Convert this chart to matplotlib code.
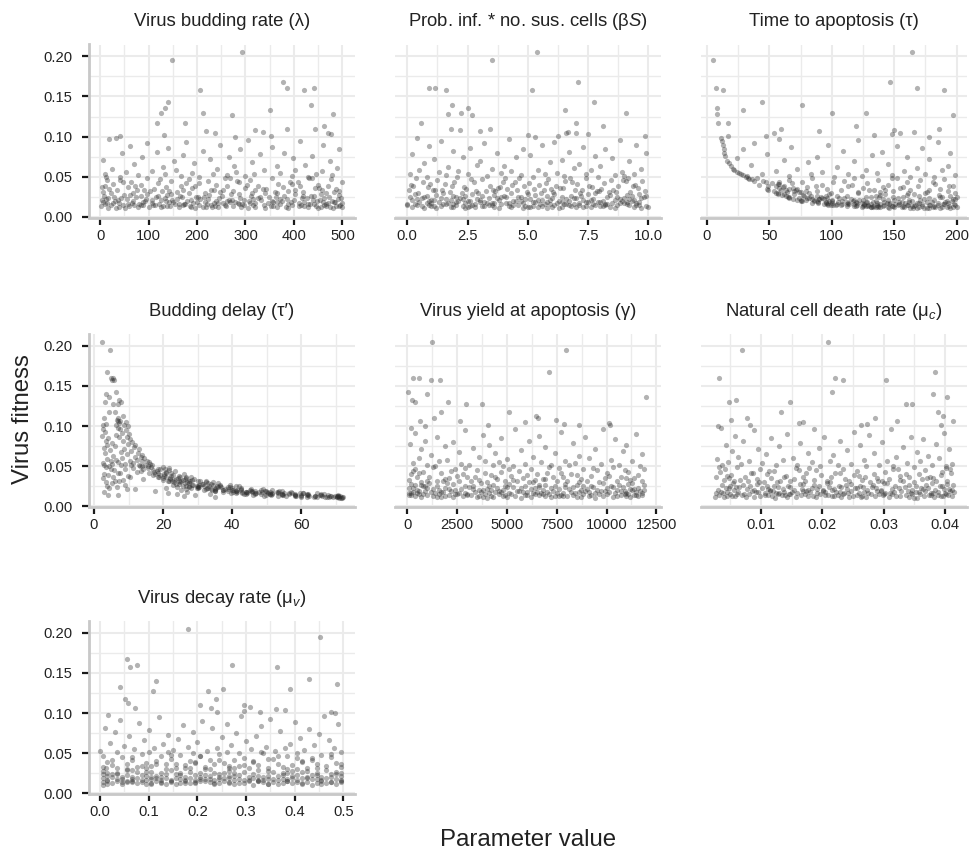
import matplotlib
matplotlib.use('Agg')
import matplotlib.pyplot as plt
import numpy as np

# ---------------- data (one row per simulated parameter set) ----------------
fitness = [
    # A: > 0.10
    0.205, 0.195, 0.168, 0.160, 0.160, 0.158, 0.158, 0.143, 0.140, 0.136,
    0.133, 0.130, 0.130, 0.128, 0.127, 0.117, 0.117, 0.113, 0.110, 0.110,
    0.108, 0.107, 0.106, 0.105, 0.104, 0.103, 0.102, 0.101, 0.101, 0.100,
    # B: 0.05 - 0.10
    0.098, 0.097, 0.096, 0.095, 0.093, 0.092, 0.090, 0.089, 0.088, 0.087, 0.086, 0.085, 0.084, 0.082, 0.081, 0.080,
    0.079, 0.078, 0.077, 0.076, 0.075, 0.074, 0.073, 0.072, 0.071, 0.070, 0.069, 0.068, 0.067, 0.066, 0.065, 0.064, 0.063, 0.062, 0.061,
    0.060, 0.060, 0.059, 0.058, 0.058, 0.057, 0.057, 0.056, 0.056, 0.055, 0.055, 0.054, 0.054, 0.053, 0.053, 0.053, 0.052, 0.052, 0.052, 0.051, 0.051, 0.051, 0.050, 0.050, 0.050,
    # C: 0.03 - 0.05
    0.050, 0.049, 0.049, 0.048, 0.048, 0.047, 0.047, 0.046, 0.046, 0.045,
    0.045, 0.044, 0.044, 0.043, 0.043, 0.042, 0.042, 0.041, 0.041, 0.040,
    0.040, 0.040, 0.039, 0.039, 0.039, 0.038, 0.038, 0.038, 0.037, 0.037,
    0.037, 0.036, 0.036, 0.036, 0.035, 0.035, 0.035, 0.035, 0.034, 0.034,
    0.034, 0.034, 0.033, 0.033, 0.033, 0.033, 0.032, 0.032, 0.032, 0.032,
    0.032, 0.031, 0.031, 0.031, 0.031, 0.031, 0.030, 0.030, 0.030, 0.030,
    0.049, 0.047, 0.045, 0.043, 0.041, 0.039, 0.037, 0.035, 0.033, 0.031,
    0.048, 0.046, 0.044, 0.042, 0.040, 0.038, 0.036, 0.034, 0.032, 0.030,
    # D1: 0.025 - 0.030
    0.0300, 0.0295, 0.0292, 0.0289, 0.0285, 0.0282, 0.0279, 0.0276, 0.0273, 0.0270,
    0.0268, 0.0266, 0.0264, 0.0262, 0.0260, 0.0258, 0.0257, 0.0256, 0.0255, 0.0254,
    0.0253, 0.0252, 0.0251, 0.0250, 0.0250, 0.0290, 0.0280, 0.0270, 0.0260, 0.0252,
    # D2: 0.020 - 0.025
    0.0248, 0.0245, 0.0243, 0.0241, 0.0239, 0.0236, 0.0234, 0.0232, 0.0230, 0.0228,
    0.0226, 0.0224, 0.0223, 0.0221, 0.0219, 0.0218, 0.0216, 0.0215, 0.0213, 0.0212,
    0.0210, 0.0209, 0.0208, 0.0206, 0.0205, 0.0204, 0.0203, 0.0202, 0.0201, 0.0200,
    0.0247, 0.0237, 0.0229, 0.0220, 0.0211, 0.0244, 0.0233, 0.0225, 0.0217, 0.0207,
    0.0240, 0.0214,
    # D3: 0.016 - 0.020
    0.0199, 0.0197, 0.0196, 0.0194, 0.0193, 0.0191, 0.0190, 0.0188, 0.0187, 0.0186,
    0.0184, 0.0183, 0.0182, 0.0180, 0.0179, 0.0178, 0.0177, 0.0175, 0.0174, 0.0173,
    0.0172, 0.0171, 0.0169, 0.0168, 0.0167, 0.0166, 0.0165, 0.0164, 0.0163, 0.0162,
    0.0161, 0.0160, 0.0198, 0.0192, 0.0185, 0.0181, 0.0176, 0.0170, 0.0166, 0.0162,
    0.0195, 0.0189, 0.0183, 0.0178, 0.0173, 0.0169, 0.0164, 0.0161, 0.0190, 0.0175,
    # D4: 0.010 - 0.016
    0.0159, 0.0158, 0.0157, 0.0156, 0.0155, 0.0154, 0.0153, 0.0152, 0.0151, 0.0150,
    0.0149, 0.0148, 0.0147, 0.0146, 0.0145, 0.0144, 0.0143, 0.0142, 0.0141, 0.0140,
    0.0139, 0.0138, 0.0137, 0.0136, 0.0135, 0.0134, 0.0133, 0.0132, 0.0131, 0.0130,
    0.0129, 0.0128, 0.0127, 0.0126, 0.0125, 0.0124, 0.0123, 0.0122, 0.0121, 0.0120,
    0.0119, 0.0118, 0.0117, 0.0116, 0.0115, 0.0114, 0.0113, 0.0112, 0.0110, 0.0108,
    0.0157, 0.0152, 0.0146, 0.0141, 0.0136, 0.0131, 0.0126, 0.0121, 0.0116, 0.0105,
    0.0154, 0.0144, 0.0134, 0.0124, 0.0149, 0.0139, 0.0129, 0.0119,
]

budding_rate = [
    293, 149, 377, 385, 441, 206, 420, 141, 436, 134, 350, 126, 213, 480, 272,
    117, 176, 463, 385, 444, 319, 218, 337, 471, 237, 476, 132, 353, 41, 278,
    32, 18, 305, 412, 178, 96, 247, 460, 61, 355, 140, 289, 493, 212, 118, 380,
    45, 330, 171, 438, 265, 87, 398, 226, 6, 475, 152, 314, 194, 70, 423, 276, 365, 129, 488,
    24, 241, 402, 157, 338, 106, 458, 281, 53, 190, 372, 445, 11, 232, 317, 134, 479, 78, 261, 396, 167, 299, 40, 430, 204,
    12, 268, 431, 97, 355, 183, 476, 40, 310, 222,
    147, 392, 63, 287, 499, 205, 120, 368, 27, 449,
    239, 84, 413, 166, 325, 9, 262, 470, 135, 377,
    57, 298, 444, 190, 111, 343, 486, 19, 254, 403,
    172, 35, 320, 458, 76, 229, 387, 142, 494, 274,
    103, 419, 6, 248, 361, 159, 467, 68, 313, 216,
    438, 124, 282, 48, 395, 196, 4, 336, 91, 482,
    257, 15, 408, 177, 303, 72, 452, 234, 128, 365,
    341, 22, 183, 456, 97, 270, 402, 138, 494, 61,
    225, 379, 8, 311, 164, 442, 85, 252, 418, 119,
    330, 29, 472, 197, 362, 146, 287, 49, 435, 214,
    75, 348, 201, 463, 133, 289, 17, 417, 246, 94,
    372, 158, 490, 55, 316, 222, 439, 108, 265, 36,
    401, 187, 297, 3, 453, 126, 354, 239, 67, 478,
    169, 325, 44, 385, 272, 115, 497, 207, 13, 333,
    426, 148,
    262, 31, 447, 180, 307, 88, 393, 216, 485, 142,
    364, 5, 278, 421, 151, 236, 66, 499, 320, 192,
    107, 410, 253, 39, 347, 174, 466, 81, 292, 428,
    220, 58, 375, 136, 483, 267, 14, 309, 162, 441,
    93, 356, 200, 471, 27, 284, 387, 121, 459, 243,
    11, 286, 434, 155, 371, 229, 48, 496, 315, 109,
    397, 171, 23, 258, 462, 89, 339, 204, 420, 130,
    275, 60, 445, 186, 352, 2, 238, 410, 144, 487,
    319, 100, 213, 474, 38, 366, 163, 291, 429, 79,
    244, 455, 125, 388, 52, 306, 195, 481, 16, 340,
    176, 414, 69, 260, 492, 137, 383, 219, 33, 449,
    296, 113, 466, 231, 84, 357, 187, 500,
]

infection_term = [
    5.37, 3.53, 7.08, 0.91, 1.16, 1.59, 5.19, 7.73, 1.87, 2.51, 6.55, 2.22, 9.06, 1.69, 2.67,
    0.57, 7.01, 8.10, 1.81, 3.41, 2.17, 3.00, 6.67, 7.00, 6.60, 7.49, 5.00, 9.86, 6.24, 5.30,
    0.40, 4.20, 8.80, 1.40, 6.10, 3.20, 9.50, 5.60, 0.90, 7.30, 2.60, 4.80, 8.20, 1.90, 6.70, 3.70,
    9.90, 0.20, 5.10, 7.80, 2.30, 4.50, 8.50, 1.10, 6.40, 3.00, 9.20, 5.90, 0.70, 7.10, 2.90, 4.00, 8.00, 1.70, 6.90,
    3.50, 9.70, 0.50, 5.40, 7.60, 2.10, 4.30, 8.90, 1.30, 6.20, 3.90, 9.40, 0.10, 5.70, 7.40, 2.50, 4.70, 8.60, 1.60, 6.50, 3.30, 9.00, 0.80, 5.20, 7.90,
    2.05, 7.40, 4.65, 9.15, 0.35, 5.85, 3.10, 8.45, 1.25, 6.55,
    9.75, 3.95, 0.65, 6.85, 2.75, 8.15, 5.05, 1.55, 7.05, 4.35,
    5.45, 0.15, 8.75, 3.45, 6.15, 1.85, 9.35, 4.85, 2.35, 7.65,
    0.85, 6.35, 3.75, 9.55, 5.25, 2.45, 8.05, 4.15, 1.05, 7.25,
    8.55, 4.55, 1.45, 6.95, 0.05, 5.65, 9.85, 3.25, 7.85, 2.85,
    3.65, 9.25, 6.05, 1.75, 4.95, 8.35, 0.45, 7.15, 2.25, 5.55,
    6.75, 2.65, 9.05, 4.45, 0.95, 7.55, 3.85, 5.95, 1.15, 8.65,
    4.05, 8.95, 1.95, 5.75, 9.45, 0.25, 6.45, 3.55, 7.95, 2.95,
    1.50, 7.80, 4.30, 9.60, 2.70, 6.10, 0.30, 8.40, 3.60, 5.30,
    9.10, 1.90, 6.80, 4.00, 0.80, 7.20, 2.40, 5.80, 9.90, 3.10,
    6.40, 0.10, 8.70, 4.70, 2.00, 7.50, 5.00, 1.20, 9.30, 3.90,
    4.60, 8.30, 0.70, 6.00, 2.20, 9.70, 3.40, 7.00, 1.40, 5.10,
    8.80, 2.90, 6.60, 0.40, 4.90, 9.20, 1.80, 7.60, 3.80, 5.60,
    0.20, 7.30, 3.00, 9.40, 5.90, 1.00, 8.10, 4.40, 6.30, 2.60,
    9.80, 3.70, 6.90, 1.60, 8.60, 4.10, 0.60, 7.70, 2.30, 5.40,
    9.00, 1.10,
    6.70, 2.10, 8.90, 4.50, 0.90, 7.40, 3.20, 9.60, 5.80, 1.30,
    3.00, 9.10, 5.20, 0.50, 7.90, 2.40, 6.20, 4.20, 8.50, 1.70,
    9.50, 4.80, 1.00, 7.10, 3.50, 6.50, 0.00, 8.20, 2.80, 5.50,
    7.70, 0.30, 4.70, 9.30, 2.00, 6.40, 8.80, 3.30, 5.70, 1.50,
    2.50, 8.00, 5.30, 0.80, 9.00, 4.10, 6.90, 1.90, 7.50, 3.60,
    5.90, 1.60, 8.30, 3.90, 6.60, 0.40, 9.50, 2.70, 7.10, 4.60,
    0.90, 7.80, 4.40, 9.20, 2.00, 6.10, 3.40, 8.70, 1.10, 5.60,
    8.10, 3.10, 0.60, 6.80, 9.90, 4.90, 2.30, 7.40, 5.20, 1.40,
    4.30, 9.40, 6.40, 1.80, 8.40, 3.60, 0.20, 7.00, 5.00, 2.80,
    7.60, 2.50, 5.40, 9.70, 0.70, 6.30, 3.80, 8.60, 1.20, 4.80,
    9.10, 0.00, 6.70, 3.20, 8.00, 4.20, 1.90, 7.30, 5.80, 2.40,
    3.50, 8.20, 1.00, 5.10, 9.60, 2.60, 6.00, 10.0,
]

time_to_apoptosis = [
    164, 5.1, 147, 7, 168, 13, 190, 44, 76, 7.7, 29, 127, 100, 8.2, 197,
    16.7, 9, 119, 186, 59, 150, 90, 166, 155, 54, 148, 134, 17, 47, 178,
    11.5, 58, 121, 12.3, 185, 38, 13.0, 97, 152, 67, 172, 13.5, 29, 109, 140, 195,
    14.0, 48, 132, 14.6, 88, 160, 24, 178, 62, 15.8, 118, 81, 17.5, 145, 35, 193, 19.0, 104, 168,
    20.5, 72, 127, 22.0, 188, 55, 158, 24.0, 92, 136, 25.5, 44, 113, 175, 27.0, 83, 199, 148, 28.5, 66, 124, 32, 182, 102, 163,
    31, 84, 152, 40, 118, 190, 36, 66, 137, 45,
    38, 101, 160, 47, 76, 128, 52, 183, 57, 145,
    42, 92, 197, 55, 113, 62, 49, 169, 141, 61,
    80, 58, 155, 125, 48, 96, 187, 66, 71, 134,
    49, 178, 63, 107, 59, 163, 70, 88, 149, 193,
    54, 121, 75, 74, 176, 139, 57, 99, 161, 199,
    148, 34, 110, 181, 58, 87, 157, 72, 130, 64,
    32.5, 171, 58, 68, 116, 194, 69, 143, 79, 82,
    55, 121, 175, 62, 70, 143, 98, 186, 60, 77,
    160, 112, 195, 78, 135, 83, 170, 63, 104, 88,
    149, 91, 188, 127, 66, 166, 57, 139, 95, 200,
    65, 131, 187, 74, 82, 153, 106, 96, 178, 94,
    69, 141, 115, 197, 90, 84, 162, 72, 125, 182,
    86, 100, 145, 171, 75, 118, 192, 88, 135, 108,
    157, 66, 110, 199, 79, 138, 92, 174, 90, 150,
    80, 122,
    76, 117, 164, 196, 98, 142, 89, 180, 112, 128,
    105, 154, 95, 191, 133, 84, 168, 97, 147, 120,
    185, 113, 89, 159, 124, 104, 198, 139, 131, 172,
    108, 151, 75, 86, 176, 119, 95, 144, 189, 126,
    100, 127, 162, 100, 136, 193, 114, 94, 156, 170,
    96, 146, 190, 112, 118, 167, 129, 199, 101, 153,
    103, 178, 126, 136, 160, 107, 185, 120, 149, 137,
    172, 112, 141, 194, 133, 157, 125, 182, 119, 164,
    133, 124, 188, 145, 150, 197, 131, 170, 139, 156,
    183, 137, 158, 165, 195, 146, 176, 178, 163, 187,
    154, 99, 179, 127, 166, 148, 192, 131, 174, 168,
    97, 161, 118, 200, 142, 129, 181, 135,
]

budding_delay = [
    2.3, 4.5, 3.8, 4.8, 5.6, 5.9, 5.2, 6.5, 3.6, 4.3, 7.2, 3.2, 7.8, 6.9, 5.5,
    4.2, 6.0, 8.5, 7.0, 2.9, 6.6, 7.4, 6.8, 9.3, 7.1, 3.5, 6.3, 8.8, 2.6, 9.8,
    6.8, 2.5, 7.5, 9.2, 3.1, 8.0, 10.1, 6.4, 2.2, 9.6, 7.2, 4.0, 10.5, 8.4, 3.4, 11.0,
    5.1, 9.9, 12.0, 3.7, 6.1, 11.5, 2.8, 8.7, 13.0, 4.6, 10.8, 7.7, 12.6, 3.3, 9.4, 14.0, 5.6, 11.8, 13.5,
    8.1, 14.5, 3.9, 12.3, 6.3, 15.2, 10.3, 4.9, 13.8, 7.0, 15.8, 2.7, 11.2, 16.3, 9.0, 5.3, 14.8, 12.9, 3.0, 16.8, 7.9, 10.7, 15.5, 4.4, 13.2,
    13.9, 19.9, 16.4, 21.6, 15.6, 19.0, 14.1, 20.4, 18.5, 17.0,
    21.7, 18.3, 23.5, 17.4, 20.8, 15.8, 22.2, 20.7, 18.6, 17.5,
    20.2, 26.0, 19.2, 22.9, 17.0, 24.6, 22.4, 20.2, 18.9, 26.5,
    28.1, 20.8, 24.8, 18.4, 26.7, 24.3, 21.9, 19.9, 28.8, 23.8,
    22.0, 26.3, 20.1, 28.4, 25.8, 23.2, 21.8, 30.6, 25.3, 32.5,
    27.9, 21.4, 30.1, 27.4, 24.7, 22.5, 32.5, 26.9, 34.5, 24.9,
    3.4, 9.1, 5.7, 12.5, 7.6, 4.1, 10.4, 2.6, 8.3, 6.2,
    11.3, 4.8, 13.7, 6.9, 2.9, 9.7, 5.4, 14.2, 7.3, 3.6,
    23.2, 33.1, 27.6, 35.9, 26.2, 31.6, 23.8, 33.9, 31.1, 28.4,
    36.5, 30.4, 39.3, 28.5, 34.3, 25.7, 36.4, 33.2, 30.0, 27.5,
    31.9, 41.1, 29.8, 35.7, 26.5, 5.2, 24.5, 8.9, 22.8, 3.8,
    41.8, 30.5, 36.8, 27.5, 39.2, 36.0, 32.7, 30.0, 42.6, 35.4,
    33.1, 39.8, 29.7, 42.4, 38.8, 35.1, 32.3, 45.4, 37.9, 48.9,
    42.5, 31.7, 45.0, 41.3, 37.4, 34.2, 48.2, 40.0, 51.6, 37.4,
    6.6, 23.9, 4.4, 26.5, 11.8, 30.2, 20.8, 28.1, 9.5, 25.3,
    38.9, 33.7,
    35.0, 49.6, 41.2, 53.4, 38.7, 46.7, 34.9, 49.7, 45.5, 41.1,
    53.1, 44.1, 57.0, 41.5, 49.9, 37.3, 52.8, 48.6, 44.0, 40.3,
    46.9, 60.6, 44.3, 53.1, 39.7, 56.3, 51.5, 46.6, 42.7, 60.4,
    64.4, 46.7, 40.2, 17.5, 3.0, 45.8, 27.0, 55.0, 21.5, 57.2,
    45.8, 35.1, 51.0, 47.8, 44.2, 41.2, 59.6, 50.2, 54.5, 42.8,
    43.9, 61.9, 51.4, 66.5, 48.2, 58.0, 43.4, 61.5, 56.3, 51.0,
    65.6, 54.5, 70.5, 51.2, 61.5, 46.0, 65.3, 59.9, 54.3, 49.8,
    58.1, 67.8, 54.6, 65.6, 49.1, 69.7, 63.9, 58.0, 53.2, 70.6,
    71.2, 58.4, 70.2, 55.4, 70.7, 68.5, 62.2, 59.9, 71.6, 67.3,
    69.0, 64.5, 71.0, 66.8, 61.5, 70.3, 72.0, 67.9, 71.4, 70.8,
    24.0, 33.5, 4.0, 29.2, 7.0, 64.0, 26.0, 63.5, 35.0, 71.8,
    51.0, 58.0, 60.0, 66.0, 54.5, 62.0, 68.4, 70.4,
]

virus_yield = [
    1253, 7962, 7139, 296, 577, 1184, 1648, 50, 1021, 11974, 266, 414, 2043, 3750, 2930,
    5101, 1700, 6483, 6547, 1352, 7484, 2634, 661, 5890, 10099, 7864, 8619, 4080, 10163, 873,
    210, 5400, 9800, 2900, 7700, 420, 11500, 3800, 6600, 1500, 8900, 4700, 10400, 900, 6100, 2300,
    8300, 150, 4100, 11000, 1900, 6900, 3300, 9400, 700, 5700, 10800, 2600, 7400, 4400, 11800, 1200, 8600, 3600, 6300,
    9100, 600, 5000, 10200, 2000, 7900, 3900, 11300, 1600, 6700, 4600, 8400, 300, 5900, 9700, 2700, 7200, 1000, 10600, 4300, 8100, 3100, 11700, 5300, 1400,
    4800, 10300, 1300, 7600, 2900, 11900, 6200, 400, 8800, 3500,
    9500, 2200, 5600, 11100, 800, 7000, 3900, 10000, 1700, 6500,
    200, 8200, 4200, 11600, 6000, 2500, 9200, 5200, 1100, 7300,
    10700, 3000, 7800, 500, 5800, 9900, 2100, 11400, 4500, 6800,
    1900, 8700, 3600, 11200, 6400, 100, 9000, 4900, 7500, 2600,
    5500, 11800, 1500, 8000, 3200, 10500, 6100, 700, 9600, 4000,
    7100, 2400, 10900, 4700, 600, 8500, 3400, 11000, 5300, 1800,
    9300, 5100, 300, 7700, 2800, 10100, 4400, 6900, 1000, 8600,
    6300, 1100, 9800, 3700, 11300, 200, 7900, 5100, 2300, 10600,
    4300, 8500, 700, 6900, 11900, 2900, 9200, 4900, 1500, 7400,
    10200, 3300, 5900, 900, 8800, 2000, 11100, 6600, 400, 4100,
    800, 6600, 10800, 3100, 8300, 5000, 11600, 1900, 7200, 4500,
    10000, 300, 5700, 9000, 2700, 7600, 4000, 11200, 1300, 6200,
    8700, 3600, 11900, 500, 6800, 2400, 9500, 4800, 10500, 1600,
    5300, 7900, 100, 11400, 3300, 9300, 6400, 1000, 8100, 4200,
    10300, 2100,
    3800, 9700, 600, 7300, 5500, 11700, 2200, 8900, 4600, 10900,
    1200, 6500, 10100, 3400, 8200, 300, 5800, 11500, 1800, 7000,
    9400, 4100, 200, 6700, 11000, 2600, 8400, 5100, 10400, 1400,
    7500, 3000, 11300, 900, 6000, 9100, 4400, 100, 7800, 2900,
    10700, 5600, 1700, 8600, 3700, 11800, 6300, 500, 9900, 4700,
    2500, 8800, 5200, 11100, 600, 7100, 3900, 10000, 1600, 6400,
    9600, 4600, 200, 7700, 11800, 3200, 5900, 1000, 8300, 10700,
    4900, 11400, 2100, 6600, 9100, 400, 7400, 3600, 10500, 1900,
    8000, 5400, 11600, 1300, 6900, 2800, 9800, 4300, 700, 10300,
    3500, 7200, 11200, 5000, 1500, 8500, 2300, 6200, 9400, 4000,
    10900, 800, 6000, 3000, 11500, 4800, 7600, 1700, 8700, 5700,
    2400, 9200, 4200, 11000, 6800, 100, 7800, 3800,
]

cell_death_rate = [
    0.0210, 0.00689, 0.0383, 0.00306, 0.0220, 0.0234, 0.0304, 0.0215, 0.0380, 0.0404,
    0.00596, 0.00475, 0.0148, 0.0346, 0.0336, 0.0132, 0.0389, 0.0397, 0.0286, 0.0077,
    0.00508, 0.0413, 0.0321, 0.0168, 0.0162, 0.0273, 0.0263, 0.0082, 0.0393, 0.0029,
    0.0035, 0.0187, 0.0312, 0.0089, 0.0251, 0.0398, 0.0142, 0.0276, 0.0058, 0.0344, 0.0203, 0.0117, 0.0365, 0.0229, 0.0071, 0.0298,
    0.0164, 0.0385, 0.0043, 0.0262, 0.0129, 0.0331, 0.0195, 0.0095, 0.0407, 0.0240, 0.0052, 0.0355, 0.0176, 0.0285, 0.0108, 0.0218, 0.0373, 0.0063, 0.0320,
    0.0152, 0.0390, 0.0028, 0.0268, 0.0135, 0.0305, 0.0081, 0.0212, 0.0359, 0.0046, 0.0183, 0.0338, 0.0102, 0.0247, 0.0412, 0.0068, 0.0293, 0.0159, 0.0379, 0.0037, 0.0225, 0.0125, 0.0316, 0.0196, 0.0402,
    0.0272, 0.0061, 0.0349, 0.0157, 0.0401, 0.0098, 0.0233, 0.0315, 0.0041, 0.0189,
    0.0367, 0.0121, 0.0256, 0.0033, 0.0302, 0.0173, 0.0410, 0.0084, 0.0221, 0.0336,
    0.0110, 0.0284, 0.0051, 0.0393, 0.0198, 0.0327, 0.0140, 0.0259, 0.0026, 0.0376,
    0.0214, 0.0073, 0.0341, 0.0168, 0.0289, 0.0116, 0.0381, 0.0047, 0.0237, 0.0309,
    0.0093, 0.0362, 0.0186, 0.0265, 0.0039, 0.0327, 0.0148, 0.0404, 0.0207, 0.0078,
    0.0297, 0.0131, 0.0386, 0.0056, 0.0244, 0.0172, 0.0350, 0.0104, 0.0278, 0.0213,
    0.0031, 0.0323, 0.0162, 0.0395, 0.0087, 0.0252, 0.0138, 0.0371, 0.0066, 0.0291,
    0.0179, 0.0408, 0.0113, 0.0228, 0.0357, 0.0044, 0.0270, 0.0153, 0.0332, 0.0097,
    0.0126, 0.0379, 0.0208, 0.0054, 0.0301, 0.0163, 0.0404, 0.0093, 0.0246, 0.0342,
    0.0071, 0.0282, 0.0187, 0.0369, 0.0036, 0.0227, 0.0318, 0.0144, 0.0396, 0.0109,
    0.0261, 0.0049, 0.0352, 0.0195, 0.0082, 0.0306, 0.0169, 0.0413, 0.0238, 0.0121,
    0.0392, 0.0147, 0.0266, 0.0059, 0.0335, 0.0211, 0.0101, 0.0372, 0.0183, 0.0288,
    0.0042, 0.0253, 0.0361, 0.0135, 0.0219, 0.0406, 0.0077, 0.0313, 0.0166, 0.0241,
    0.0384, 0.0115, 0.0296, 0.0029, 0.0201, 0.0347, 0.0154, 0.0273, 0.0089, 0.0411,
    0.0230, 0.0064, 0.0325, 0.0192, 0.0399, 0.0128, 0.0257, 0.0048, 0.0364, 0.0176,
    0.0281, 0.0111,
    0.0056, 0.0328, 0.0173, 0.0409, 0.0119, 0.0247, 0.0368, 0.0085, 0.0295, 0.0201,
    0.0137, 0.0389, 0.0034, 0.0268, 0.0180, 0.0317, 0.0095, 0.0229, 0.0357, 0.0062,
    0.0302, 0.0158, 0.0400, 0.0107, 0.0236, 0.0345, 0.0027, 0.0192, 0.0274, 0.0130,
    0.0378, 0.0072, 0.0215, 0.0339, 0.0150, 0.0414, 0.0045, 0.0260, 0.0124, 0.0310,
    0.0168, 0.0289, 0.0091, 0.0353, 0.0205, 0.0038, 0.0242, 0.0381, 0.0114, 0.0223,
    0.0234, 0.0081, 0.0346, 0.0171, 0.0402, 0.0128, 0.0279, 0.0050, 0.0313, 0.0196,
    0.0360, 0.0145, 0.0256, 0.0031, 0.0226, 0.0388, 0.0106, 0.0299, 0.0165, 0.0336,
    0.0069, 0.0210, 0.0374, 0.0139, 0.0265, 0.0045, 0.0327, 0.0185, 0.0412, 0.0099,
    0.0250, 0.0366, 0.0118, 0.0286, 0.0057, 0.0219, 0.0394, 0.0157, 0.0308, 0.0076,
    0.0341, 0.0190, 0.0039, 0.0272, 0.0143, 0.0382, 0.0088, 0.0231, 0.0355, 0.0122,
    0.0292, 0.0060, 0.0204, 0.0405, 0.0112, 0.0320, 0.0177, 0.0025, 0.0263, 0.0349,
    0.0148, 0.0377, 0.0216, 0.0053, 0.0301, 0.0134, 0.0397, 0.0244,
]

virus_decay_rate = [
    0.181, 0.453, 0.056, 0.075, 0.272, 0.062, 0.363, 0.430, 0.114, 0.487, 0.040, 0.252, 0.390, 0.108, 0.222,
    0.238, 0.052, 0.058, 0.206, 0.296, 0.309, 0.071, 0.227, 0.362, 0.380, 0.295, 0.475, 0.328, 0.241, 0.483,
    0.016, 0.290, 0.460, 0.120, 0.350, 0.040, 0.210, 0.400, 0.080, 0.260, 0.490, 0.170, 0.330, 0.010, 0.230, 0.430,
    0.100, 0.370, 0.190, 0.030, 0.280, 0.450, 0.140, 0.320, 0.060, 0.250, 0.410, 0.160, 0.470, 0.090, 0.300, 0.200, 0.020, 0.390, 0.130,
    0.270, 0.440, 0.050, 0.340, 0.180, 0.480, 0.110, 0.240, 0.380, 0.070, 0.310, 0.150, 0.420, 0.000, 0.220, 0.360, 0.100, 0.495, 0.260, 0.140, 0.330, 0.035, 0.190, 0.405, 0.285,
    0.335, 0.085, 0.245, 0.455, 0.165, 0.005, 0.385, 0.205, 0.125, 0.475,
    0.045, 0.295, 0.405, 0.145, 0.355, 0.225, 0.065, 0.435, 0.275, 0.185,
    0.415, 0.115, 0.015, 0.315, 0.195, 0.485, 0.255, 0.095, 0.365, 0.155,
    0.235, 0.445, 0.135, 0.055, 0.325, 0.175, 0.395, 0.025, 0.285, 0.465,
    0.105, 0.265, 0.375, 0.215, 0.495, 0.075, 0.345, 0.155, 0.425, 0.035,
    0.305, 0.011, 0.185, 0.445, 0.095, 0.265, 0.135, 0.385, 0.055, 0.225,
    0.475, 0.205, 0.065, 0.345, 0.245, 0.415, 0.115, 0.295, 0.005, 0.175,
    0.145, 0.365, 0.435, 0.025, 0.315, 0.195, 0.495, 0.085, 0.275, 0.405,
    0.215, 0.465, 0.055, 0.325, 0.145, 0.395, 0.005, 0.265, 0.425, 0.105,
    0.355, 0.185, 0.485, 0.075, 0.295, 0.235, 0.035, 0.445, 0.165, 0.375,
    0.125, 0.275, 0.015, 0.495, 0.205, 0.065, 0.345, 0.415, 0.095, 0.255,
    0.385, 0.135, 0.245, 0.475, 0.025, 0.315, 0.195, 0.435, 0.085, 0.285,
    0.165, 0.405, 0.055, 0.345, 0.225, 0.495, 0.115, 0.265, 0.015, 0.365,
    0.205, 0.455, 0.105, 0.305, 0.065, 0.425, 0.175, 0.335, 0.245, 0.045,
    0.485, 0.155, 0.375, 0.095, 0.275, 0.005, 0.445, 0.215, 0.325, 0.125,
    0.035, 0.395,
    0.025, 0.255, 0.395, 0.135, 0.465, 0.075, 0.315, 0.185, 0.425, 0.005,
    0.345, 0.105, 0.225, 0.485, 0.045, 0.285, 0.165, 0.375, 0.065, 0.445,
    0.125, 0.405, 0.275, 0.015, 0.335, 0.195, 0.455, 0.085, 0.235, 0.365,
    0.295, 0.055, 0.475, 0.155, 0.215, 0.385, 0.035, 0.325, 0.145, 0.495,
    0.265, 0.115, 0.355, 0.205, 0.435, 0.095, 0.175, 0.305, 0.415, 0.245,
    0.455, 0.175, 0.015, 0.325, 0.115, 0.385, 0.255, 0.065, 0.495, 0.205,
    0.035, 0.305, 0.425, 0.145, 0.265, 0.055, 0.355, 0.195, 0.475, 0.085,
    0.335, 0.005, 0.225, 0.405, 0.125, 0.295, 0.445, 0.165, 0.025, 0.375,
    0.185, 0.465, 0.075, 0.245, 0.395, 0.105, 0.285, 0.485, 0.135, 0.345,
    0.095, 0.235, 0.365, 0.045, 0.415, 0.155, 0.275, 0.015, 0.315, 0.435,
    0.215, 0.385, 0.125, 0.495, 0.065, 0.265, 0.175, 0.345, 0.455, 0.005,
    0.325, 0.045, 0.195, 0.415, 0.145, 0.475, 0.235, 0.105,
]

panel_titles = [
    'Virus budding rate (\u03bb)',
    'Prob. inf. * no. sus. cells (\u03b2$S$)',
    'Time to apoptosis (\u03c4)',
    'Budding delay (\u03c4\u2032)',
    'Virus yield at apoptosis (\u03b3)',
    'Natural cell death rate (\u03bc$_c$)',
    'Virus decay rate (\u03bc$_v$)',
]

x_ticks = [
    [0, 100, 200, 300, 400, 500],
    [0.0, 2.5, 5.0, 7.5, 10.0],
    [0, 50, 100, 150, 200],
    [0, 20, 40, 60],
    [0, 2500, 5000, 7500, 10000, 12500],
    [0.01, 0.02, 0.03, 0.04],
    [0.0, 0.1, 0.2, 0.3, 0.4, 0.5],
]
x_tick_labels = [
    ['0', '100', '200', '300', '400', '500'],
    ['0.0', '2.5', '5.0', '7.5', '10.0'],
    ['0', '50', '100', '150', '200'],
    ['0', '20', '40', '60'],
    ['0', '2500', '5000', '7500', '10000', '12500'],
    ['0.01', '0.02', '0.03', '0.04'],
    ['0.0', '0.1', '0.2', '0.3', '0.4', '0.5'],
]
y_ticks = [0.00, 0.05, 0.10, 0.15, 0.20]
y_tick_labels = ['0.00', '0.05', '0.10', '0.15', '0.20']

# ---------------- styling ----------------
plt.rcParams['font.family'] = ['Liberation Sans', 'DejaVu Sans']
plt.rcParams['mathtext.fontset'] = 'custom'
plt.rcParams['mathtext.rm'] = 'Liberation Sans'
plt.rcParams['mathtext.it'] = 'Liberation Sans:italic'
plt.rcParams['mathtext.bf'] = 'Liberation Sans:bold'

W, H = 970, 852
fig = plt.figure(figsize=(W / 100, H / 100), dpi=100)

x_series = [budding_rate, infection_term, time_to_apoptosis, budding_delay,
            virus_yield, cell_death_rate, virus_decay_rate]
x_limits = [(-23, 526), (-0.51, 10.52), (-4.8, 208.3), (-1.45, 75.5),
            (-607, 12730), (0.0002, 0.0436), (-0.023, 0.524)]

col_left = [89, 395, 701]
row_bottom = [217.5, 507, 794]
panel_w = 266
panel_h = 173

GRID = '#EBEBEB'
SPINE = '#C8C8C8'
TXT = '#222222'

y = np.array(fitness)
for i, (title, xs, xl, xt, xtl) in enumerate(zip(panel_titles, x_series, x_limits,
                                                  x_ticks, x_tick_labels)):
    r, c = divmod(i, 3)
    ax = fig.add_axes([col_left[c] / W, 1 - row_bottom[r] / H, panel_w / W, panel_h / H])
    ax.set_xlim(*xl)
    ax.set_ylim(-0.0008, 0.2148)

    ax.set_xticks(xt)
    ax.set_xticklabels(xtl)
    step = xt[1] - xt[0]
    minors = [xt[0] - step / 2] + [v + step / 2 for v in xt]
    ax.set_xticks([m for m in minors if xl[0] < m < xl[1]], minor=True)
    ax.set_yticks(y_ticks)
    ax.set_yticks([0.025, 0.075, 0.125, 0.175], minor=True)

    ax.set_axisbelow(True)
    ax.grid(which='major', color=GRID, linewidth=1.5)
    ax.grid(which='minor', color=GRID, linewidth=1.0)

    ax.scatter(np.array(xs), y, s=14, c='#2b2b2b', alpha=0.36, linewidths=0, zorder=3)

    for side in ('top', 'right'):
        ax.spines[side].set_visible(False)
    ax.spines['bottom'].set_color(SPINE)
    ax.spines['bottom'].set_linewidth(2.0)
    if c == 0:
        ax.spines['left'].set_color(SPINE)
        ax.spines['left'].set_linewidth(2.0)
        ax.set_yticklabels(y_tick_labels)
        ax.tick_params(axis='y', which='major', length=5, width=1.6, color='#1a1a1a',
                       labelsize=10.6, labelcolor=TXT, pad=7)
    else:
        ax.spines['left'].set_visible(False)
        ax.tick_params(axis='y', which='both', left=False, labelleft=False)
    ax.tick_params(axis='x', which='major', length=5, width=1.6, color='#1a1a1a',
                   labelsize=10.6, labelcolor=TXT, pad=3)
    ax.tick_params(which='minor', length=0)
    ax.set_title(title, fontsize=13.3, color=TXT, pad=13)

fig.text(23 / W, 1 - 419 / H, 'Virus fitness', rotation=90, ha='center', va='center',
         fontsize=17.3, color=TXT)
fig.text(528 / W, 1 - 840 / H, 'Parameter value', ha='center', va='center',
         fontsize=17.3, color=TXT)

fig.savefig('out.png', dpi=100)
